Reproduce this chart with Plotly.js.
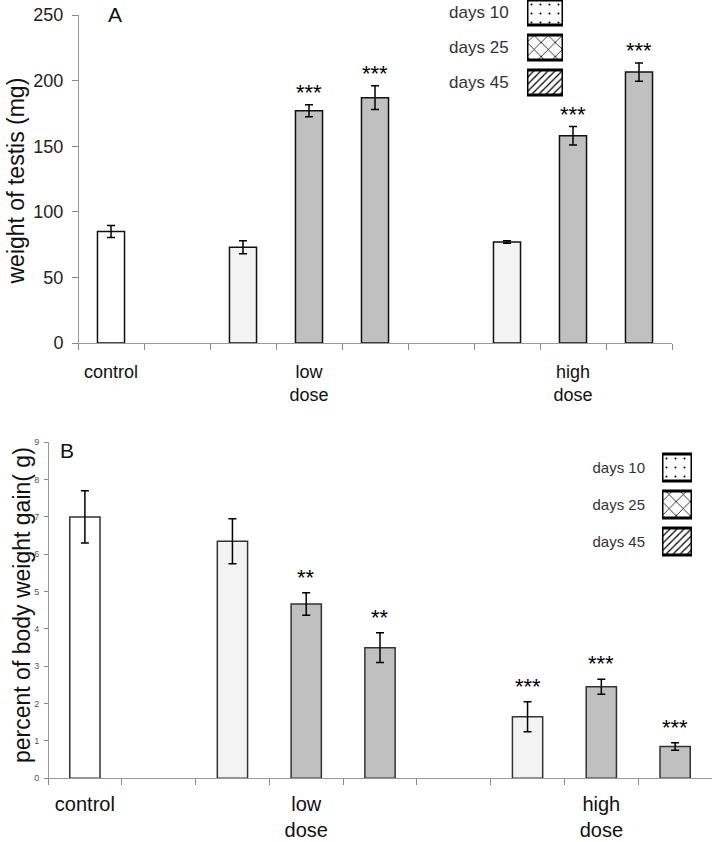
<!DOCTYPE html>
<html>
<head>
<meta charset="utf-8">
<script src="https://cdn.plot.ly/plotly-3.0.1.min.js"></script>
<style>
  html, body { margin: 0; padding: 0; background: #fff; }
  #chart { width: 712px; height: 842px; }
</style>
</head>
<body>
<div id="chart"></div>
<script>
// ---------------- data ----------------
const groups = ['control', 'low dose', 'high dose'];
const days = ['days 10', 'days 25', 'days 45'];

// bars in drawing order (group, day)
const barGroup = ['control', 'low dose', 'low dose', 'low dose', 'high dose', 'high dose', 'high dose'];
const barDay   = ['control', 'days 10', 'days 25', 'days 45', 'days 10', 'days 25', 'days 45'];

// Panel A: weight of testis (mg)
const testisWeight = [85, 73, 177, 187, 77, 158, 206.5];
const testisErr    = [4.5, 5, 4.5, 9, 1, 7, 7];
const testisStars  = ['', '', '***', '***', '', '***', '***'];

// Panel B: percent of body weight gain (g)
const weightGain    = [7.0, 6.35, 4.67, 3.5, 1.65, 2.45, 0.85];
const weightGainErr = [0.7, 0.6, 0.3, 0.4, 0.4, 0.2, 0.1];
const weightGainStars = ['', '', '**', '**', '***', '***', '***'];

// legend swatch patterns (as printed in the original key)
const legendPatterns = ['.', 'x', '/'];

// ---------------- helpers ----------------
const barKeys = barGroup.map((g, i) => g === 'control' ? 'control' : g + ' · ' + barDay[i]);
const catOrder = [];
groups.forEach((g, gi) => {
  if (gi > 0) catOrder.push('gap ' + gi);
  barKeys.forEach((k, i) => { if (barGroup[i] === g) catOrder.push(k); });
});
const tickText = catOrder.map(c => '');
groups.forEach(g => {
  const keys = barKeys.filter((k, i) => barGroup[i] === g);
  const mid = keys[Math.floor(keys.length / 2)];
  tickText[catOrder.indexOf(mid)] = g.replace(' ', '<br>');
});

const fills = { 'control': '#ffffff', 'days 10': '#f3f3f3', 'days 25': '#c0c0c0', 'days 45': '#c0c0c0' };
const FONT = 'Liberation Sans, Arial, sans-serif';

function barTrace(values, errs, xa, ya, lineColor) {
  return {
    type: 'bar', x: barKeys, y: values, xaxis: xa, yaxis: ya,
    marker: { color: barDay.map(d => fills[d]), line: { color: lineColor, width: 1.5 } },
    error_y: { type: 'data', array: errs, visible: true, color: '#000', thickness: 1.5, width: 4 },
    showlegend: false, hoverinfo: 'skip'
  };
}
function keyTrace(xa, ya, width, sizes) {
  return {
    type: 'bar', orientation: 'h', y: days, x: days.map(() => 1), xaxis: xa, yaxis: ya,
    width: days.map(() => width),
    marker: {
      color: '#ffffff',
      line: { color: '#000', width: 3 },
      pattern: { shape: legendPatterns, fgcolor: '#000', bgcolor: '#fff', size: sizes, solidity: [0.04, 0.15, 0.25] }
    },
    showlegend: false, hoverinfo: 'skip'
  };
}
function starNotes(values, errs, stars, xa, ya, shift) {
  const out = [];
  stars.forEach((s, i) => {
    if (!s) return;
    out.push({ xref: xa, yref: ya, x: barKeys[i], y: values[i] + errs[i], text: s,
      showarrow: false, yanchor: 'bottom', xanchor: 'center', yshift: shift,
      font: { family: FONT, size: 22, color: '#000' } });
  });
  return out;
}

const data = [
  barTrace(testisWeight, testisErr, 'x', 'y', '#111'),
  barTrace(weightGain, weightGainErr, 'x2', 'y2', '#333'),
  keyTrace('x3', 'y3', 0.714, [9, 10, 5]),
  keyTrace('x4', 'y4', 0.73, [9, 10, 5])
];

const catAxis = (domain, anchor, fontSize, standoff) => ({
  domain: domain, anchor: anchor, type: 'category', categoryorder: 'array', categoryarray: catOrder,
  range: [-0.5, catOrder.length - 0.5],
  tickmode: 'array', tickvals: catOrder, ticktext: tickText, tickson: 'boundaries',
  ticks: 'outside', ticklen: 6, tickcolor: '#888', tickwidth: 1,
  showline: true, linecolor: '#999', linewidth: 1, showgrid: false, zeroline: false,
  tickfont: { family: FONT, size: fontSize, color: '#111' }, ticklabelstandoff: standoff,
  fixedrange: true
});

const layout = {
  width: 712, height: 842,
  margin: { l: 0, r: 0, t: 0, b: 0 },
  paper_bgcolor: '#fff', plot_bgcolor: 'rgba(0,0,0,0)',
  bargap: 0.59, showlegend: false, hovermode: false,
  font: { family: FONT },
  xaxis: catAxis([78 / 712, 672 / 712], 'y', 18, 12),
  yaxis: {
    domain: [(842 - 343) / 842, (842 - 15) / 842], anchor: 'free', position: 78 / 712, range: [0, 250], dtick: 50,
    ticks: 'outside', ticklen: 6, tickcolor: '#888', showline: true, linecolor: '#999', ticklabelstandoff: 5,
    showgrid: false, zeroline: false, tickfont: { family: FONT, size: 18, color: '#222' }, fixedrange: true
  },
  xaxis2: catAxis([48 / 712, 1], 'y2', 20, 8),
  yaxis2: {
    domain: [(842 - 778.3) / 842, (842 - 442.3) / 842], anchor: 'free', position: 48 / 712, range: [0, 9], dtick: 1,
    ticks: 'outside', ticklen: 4, tickcolor: '#888', showline: true, linecolor: '#999', ticklabelstandoff: 3,
    showgrid: false, zeroline: false, tickfont: { family: FONT, size: 9, color: '#555' }, fixedrange: true
  },
  xaxis3: { domain: [527 / 712, 563 / 712], range: [0, 1], visible: false, fixedrange: true, anchor: 'y3' },
  yaxis3: {
    domain: [(842 - 100) / 842, 1], range: [2.5, -0.357], type: 'category', anchor: 'x3',
    showline: false, showgrid: false, zeroline: false,
    ticks: 'outside', ticklen: 14, tickcolor: 'rgba(0,0,0,0)',
    tickfont: { family: FONT, size: 17, color: '#333' }, fixedrange: true
  },
  xaxis4: { domain: [662 / 712, 692 / 712], range: [0, 1], visible: false, fixedrange: true, anchor: 'y4' },
  yaxis4: {
    domain: [(842 - 562) / 842, (842 - 445) / 842], range: [2.554, -0.608], type: 'category', anchor: 'x4',
    showline: false, showgrid: false, zeroline: false,
    ticks: 'outside', ticklen: 13, tickcolor: 'rgba(0,0,0,0)',
    tickfont: { family: FONT, size: 15, color: '#333' }, fixedrange: true
  },
  annotations: [
    { xref: 'paper', yref: 'paper', x: 15 / 712, y: (842 - 181.5) / 842, text: 'weight of testis (mg)',
      textangle: -90, showarrow: false, xanchor: 'center', yanchor: 'middle',
      font: { family: FONT, size: 23, color: '#111' } },
    { xref: 'paper', yref: 'paper', x: 22 / 712, y: (842 - 605) / 842, text: 'percent of body weight gain( g)',
      textangle: -90, showarrow: false, xanchor: 'center', yanchor: 'middle',
      font: { family: FONT, size: 23, color: '#111' } },
    { xref: 'paper', yref: 'paper', x: 115 / 712, y: (842 - 15) / 842, text: 'A',
      showarrow: false, xanchor: 'center', yanchor: 'middle', font: { family: FONT, size: 21, color: '#111' } },
    { xref: 'paper', yref: 'paper', x: 67 / 712, y: (842 - 450) / 842, text: 'B',
      showarrow: false, xanchor: 'center', yanchor: 'middle', font: { family: FONT, size: 21, color: '#111' } }
  ].concat(
    starNotes(testisWeight, testisErr, testisStars, 'x', 'y', -2),
    starNotes(weightGain, weightGainErr, weightGainStars, 'x2', 'y2', 1)
  )
};

Plotly.newPlot('chart', data, layout, { staticPlot: true, displayModeBar: false });
</script>
</body>
</html>
